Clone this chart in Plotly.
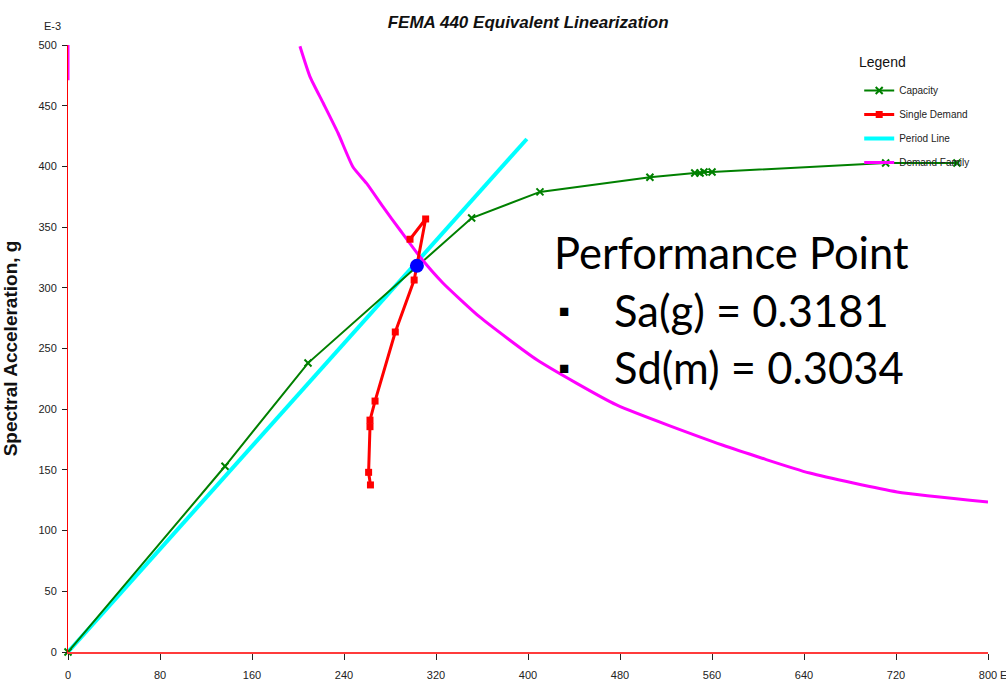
import plotly.graph_objects as go

# Capacity curve (spectral displacement, spectral acceleration), units of E-3
cap_sd = [0, 136.5, 208.7, 351, 410.4, 506, 545, 549.6, 553, 560, 711, 773]
cap_sa = [0, 153, 238, 357.5, 379, 391, 394.6, 394.6, 395.4, 395.4, 402.8, 402.8]

# Single demand trajectory
dem_sd = [263, 261.4, 262.6, 262.6, 267, 284.6, 301, 311, 297.4]
dem_sa = [137.6, 148, 185.6, 191, 206.7, 263.6, 306.4, 356.7, 340]

# Period line
per_sd = [0, 399]
per_sa = [0, 422.6]

# Demand family (short stub on the vertical axis, then the main curve)
fam_sd = [0, 0, None, 201.7, 210.4, 222, 234.8, 247.8, 259.7, 274, 288.7, 306, 326, 358,
          408, 477, 569, 645, 721, 800]
fam_sa = [500, 471, None, 499, 474, 452, 427.5, 399.5, 386, 366.6, 347.6, 325.6, 304, 276,
          240.5, 203.5, 170.5, 147.4, 131.8, 123.6]

# Performance point
pp_sa = 0.3181
pp_sd = 0.3034

x_ticks = [0, 80, 160, 240, 320, 400, 480, 560, 640, 720, 800]
y_ticks = [0, 50, 100, 150, 200, 250, 300, 350, 400, 450, 500]

tick_font = dict(family="Liberation Sans Narrow, Arial Narrow, Liberation Sans, Arial", size=11, color="#222222")
big_font = dict(family="Lato, Open Sans, sans-serif", size=43.5, color="#000000")

fig = go.Figure()

fig.add_trace(go.Scatter(
    x=per_sd, y=per_sa, mode="lines", name="Period Line",
    line=dict(color="#00ffff", width=4), legendrank=3, legendgroup="p"))

fig.add_trace(go.Scatter(
    x=cap_sd, y=cap_sa, mode="lines+markers", name="Capacity",
    line=dict(color="#008000", width=2),
    marker=dict(symbol="x-thin", size=7, line=dict(color="#008000", width=2)),
    cliponaxis=False, legendrank=1, legendgroup="c"))

fig.add_trace(go.Scatter(
    x=fam_sd, y=fam_sa, mode="lines", name="Demand Family",
    line=dict(color="#ff00ff", width=3, shape="spline", smoothing=0.5), cliponaxis=False,
    legendrank=4, legendgroup="f"))

fig.add_trace(go.Scatter(
    x=dem_sd, y=dem_sa, mode="lines+markers", name="Single Demand",
    line=dict(color="#ff0000", width=3),
    marker=dict(symbol="square", size=7, color="#ff0000"),
    legendrank=2, legendgroup="d"))

fig.add_trace(go.Scatter(
    x=[pp_sd * 1000], y=[pp_sa * 1000], mode="markers", showlegend=False,
    marker=dict(color="#0000ff", size=14)))

annotations = [
    dict(text="E-3", x=-0.028, y=1.044, xref="paper", yref="paper", showarrow=False,
         font=dict(family="Liberation Sans Narrow, Liberation Sans, Arial", size=11, color="#222222")),
    dict(text="E", x=1.0105, xanchor="left", y=-0.038, xref="paper", yref="paper", showarrow=False,
         yanchor="middle", font=tick_font),
    dict(text="Legend", x=0.858, y=0.972, xref="paper", yref="paper", xanchor="left",
         yanchor="middle", showarrow=False,
         font=dict(family="Liberation Sans, Arial", size=14, color="#111111")),
    dict(text="Performance Point", x=0.526, y=0.659, xref="paper", yref="paper",
         xanchor="left", yanchor="middle", showarrow=False, font=big_font),
    dict(text="■", x=0.532, y=0.563, xref="paper", yref="paper", xanchor="left",
         yanchor="middle", showarrow=False, font=dict(size=17, color="#000000")),
    dict(text="Sa(g) = %.4f" % pp_sa, x=0.591, y=0.563, xref="paper", yref="paper",
         xanchor="left", yanchor="middle", showarrow=False, font=big_font),
    dict(text="■", x=0.532, y=0.469, xref="paper", yref="paper", xanchor="left",
         yanchor="middle", showarrow=False, font=dict(size=17, color="#000000")),
    dict(text="Sd(m) = %.4f" % pp_sd, x=0.591, y=0.469, xref="paper", yref="paper",
         xanchor="left", yanchor="middle", showarrow=False, font=big_font),
]

fig.update_layout(
    width=1006, height=688,
    margin=dict(l=68, r=18, t=45, b=36),
    paper_bgcolor="white", plot_bgcolor="white",
    title=dict(text="<b><i>FEMA 440 Equivalent Linearization</i></b>", x=0.525, xanchor="center",
               y=0.968, yanchor="middle",
               font=dict(family="Liberation Sans, Arial", size=17, color="#111111")),
    xaxis=dict(range=[0, 800], tickvals=x_ticks, showgrid=False, zeroline=False,
               showline=True, linecolor="#ff3b3b", linewidth=2, automargin=False,
               ticks="outside", ticklen=6, tickcolor="#222222", tickfont=tick_font,
               ticklabelstandoff=6),
    yaxis=dict(range=[0, 500], tickvals=y_ticks, showgrid=False, zeroline=False,
               showline=True, linecolor="#ff0000", linewidth=1, automargin=False,
               ticks="outside", ticklen=5, tickcolor="#222222", tickfont=tick_font,
               ticklabelstandoff=3,
               title=dict(text="<b>Spectral Acceleration, g</b>", standoff=19,
                          font=dict(family="Liberation Sans, Arial", size=19, color="#111111"))),
    legend=dict(x=0.86, y=0.949, xanchor="left", yanchor="top",
                bgcolor="rgba(0,0,0,0)", tracegroupgap=5, itemwidth=30,
                font=dict(family="Liberation Sans Narrow, Arial Narrow, Liberation Sans, Arial", size=10, color="#222222")),
    annotations=annotations,
    showlegend=True,
)

fig.write_html("out.html")
